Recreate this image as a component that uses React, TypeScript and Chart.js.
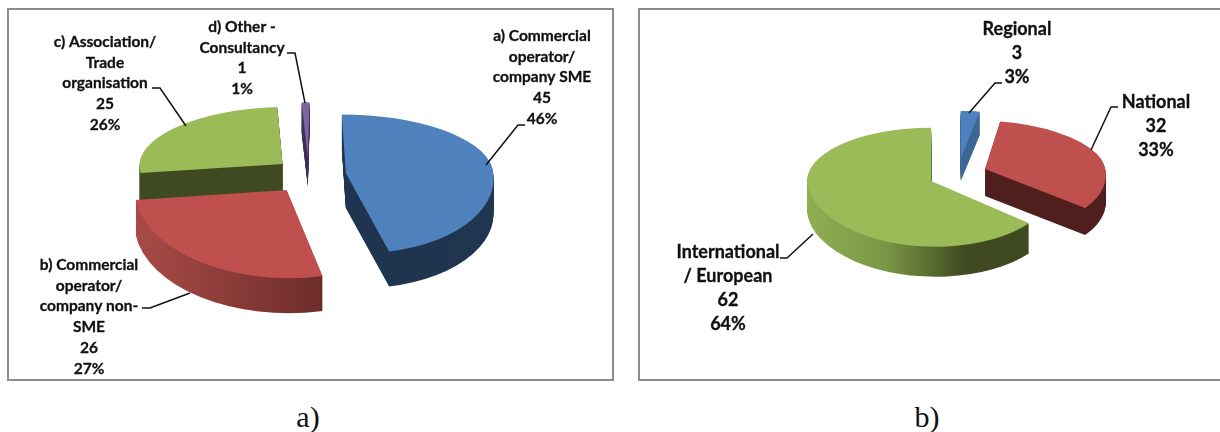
import React, { useEffect, useRef } from "react";
import { Chart, registerables } from "chart.js";

Chart.register(...registerables);

// ---- data ----
const leftCategories = ["a) Commercial operator/ company SME", "b) Commercial operator/ company non-SME", "c) Association/ Trade organisation", "d) Other - Consultancy"];
const leftValues = [45, 26, 25, 1];
const rightCategories = ["Regional", "National", "International / European"];
const rightValues = [3, 32, 62];
const leftNameLines = [
  ["a) Commercial", "operator/", "company SME"],
  ["b) Commercial", "operator/", "company non-", "SME"],
  ["c) Association/", "Trade", "organisation"],
  ["d) Other -", "Consultancy"],
];
const rightNameLines = [["Regional"], ["National"], ["International", "/ European"]];
const leftPercents = [46, 27, 26, 1];
const rightPercents = [3, 33, 64];

// ---- styles and placement ----
const BLUE = "#4f81bd", RED = "#c0504d", GREEN = "#9bbb59", PURPLE = "#8064a2";

type Stop = [number, string];
type Panel = {
  left: number; top: number; width: number; height: number;
  padding: any; radius: number; baseK: number; fontSize: number; lineH: number;
  labels: string[]; values: number[]; names: string[][]; percents: number[];
  colors: string[]; explode: number[]; kUp: number[]; kDown: number[]; depth: number[];
  kx: number[]; shearUp: number[]; shearDown: number[]; nudge: number[];
  order: number[]; walls: Stop[][];
  labelPos: number[][]; leaders: number[][][];
};

const leftPanel: Panel = {
  left: 8, top: 9, width: 604, height: 371,
  padding: { right: 2, bottom: 39 }, radius: 152, baseK: 0.48, fontSize: 15.5, lineH: 20.7,
  labels: leftCategories, values: leftValues, names: leftNameLines, percents: leftPercents,
  colors: [BLUE, RED, GREEN, PURPLE],
  explode: [37, 37, 37, 37],
  kUp: [0.385, 0.4, 0.375, 0.36],
  kDown: [0.53, 0.58, 0.53, 0.53],
  kx: [0.97, 1, 0.94, 0.8],
  shearUp: [0.067, 0, -0.07, -0.03],
  shearDown: [0.13, 0.02, 0, 0],
  nudge: [0, -1, 2, 0],
  depth: [35, 35, 35, 30],
  order: [3, 2, 0, 1],
  walls: [
    [[0, "#1f344e"], [1, "#1f3550"]],
    [[0, "#a84b47"], [0.6, "#6e2d2b"], [0.62, "#5a2322"], [1, "#552120"]],
    [[0, "#3f4a20"], [1, "#3f4a20"]],
    [[0, "#3c2f57"], [1, "#3c2f57"]],
  ],
  labelPos: [[542, 36], [89, 265], [105, 42], [242, 27]],
  leaders: [
    [[525, 125], [518, 125], [486, 165]],
    [[142, 308], [150, 308], [190, 293]],
    [[152, 88], [160, 88], [186, 126]],
    [[287, 53], [295, 53], [305, 103]],
  ],
};

const rightPanel: Panel = {
  left: 639, top: 9, width: 581, height: 371,
  padding: { left: 57, bottom: 41 }, radius: 124, baseK: 0.55, fontSize: 18, lineH: 24,
  labels: rightCategories, values: rightValues, names: rightNameLines, percents: rightPercents,
  colors: [BLUE, RED, GREEN],
  explode: [28.6, 28.6, 28.6],
  kUp: [0.38, 0.39, 0.43],
  kDown: [0.5, 0.49, 0.53],
  kx: [0.8, 0.97, 1],
  shearUp: [0, 0.17, 0],
  shearDown: [0, 0.2, 0.07],
  nudge: [0, 0, -1],
  depth: [23, 27, 30],
  order: [0, 1, 2],
  walls: [
    [[0, "#3c6696"], [1, "#3c6696"]],
    [[0, "#4f1f1e"], [1, "#4f1f1e"]],
    [[0, "#8fae52"], [0.3, "#7a9646"], [0.62, "#3f4a20"], [1, "#3f4a20"]],
  ],
  labelPos: [[1017, 29], [1156, 102], [728, 252]],
  leaders: [
    [[1002, 83], [995, 83], [969, 113]],
    [[1118, 107], [1111, 107], [1091, 150]],
    [[780, 258], [787, 258], [813, 234]],
  ],
};

function drawExtruded(chart: any, p: Panel) {
  const ctx: CanvasRenderingContext2D = chart.ctx;
  const arcs = chart.getDatasetMeta(0).data;
  const W = chart.width, H = chart.height;

  const stamp = (arc: any, i: number, ax: number, ay: number, dy: number, upper: boolean) => {
    ctx.save();
    ctx.beginPath();
    if (upper) ctx.rect(0, 0, W, ay + dy);
    else ctx.rect(0, ay + dy, W, H - ay - dy);
    ctx.clip();
    ctx.translate(ax, ay + dy);
    ctx.transform(1, 0, upper ? p.shearUp[i] : p.shearDown[i], 1, 0, 0);
    ctx.scale(p.kx[i], upper ? p.kUp[i] : p.kDown[i]);
    ctx.translate(-arc.x, -arc.y);
    arc.draw(ctx);
    ctx.restore();
  };

  for (const i of p.order) {
    const arc = arcs[i];
    const mid = (arc.startAngle + arc.endAngle) / 2;
    const ax = arc.x + p.explode[i] * Math.cos(mid) + p.nudge[i];
    const ay = Math.round(arc.y + p.explode[i] * Math.sin(mid) * p.baseK);
    const orig = arc.options;
    const grad = ctx.createLinearGradient(arc.x - p.radius, 0, arc.x + p.radius, 0);
    for (const [f, c] of p.walls[i]) grad.addColorStop(f, c);
    arc.options = { ...orig, backgroundColor: grad };
    for (let dy = p.depth[i]; dy >= 1; dy--) {
      stamp(arc, i, ax, ay, dy, true);
      stamp(arc, i, ax, ay, dy, false);
    }
    arc.options = orig;
    stamp(arc, i, ax, ay, 0, true);
    stamp(arc, i, ax, ay, 0, false);
  }
}

function drawLabels(chart: any, p: Panel) {
  const ctx: CanvasRenderingContext2D = chart.ctx;
  ctx.save();
  ctx.translate(-p.left, -p.top);
  ctx.strokeStyle = "#111";
  ctx.lineWidth = 1.5;
  for (const line of p.leaders) {
    ctx.beginPath();
    line.forEach(([x, y], j) => (j ? ctx.lineTo(x, y) : ctx.moveTo(x, y)));
    ctx.stroke();
  }
  ctx.fillStyle = "#111";
  ctx.font = `bold ${p.fontSize}px Lato`;
  ctx.textAlign = "center";
  ctx.textBaseline = "middle";
  ctx.lineWidth = 0.3;
  p.names.forEach((lines, i) => {
    const all = [...lines, String(p.values[i]), `${p.percents[i]}%`];
    all.forEach((t, j) => {
      const x = p.labelPos[i][0], y = p.labelPos[i][1] + j * p.lineH;
      ctx.fillText(t, x, y);
      ctx.strokeText(t, x, y);
    });
  });
  ctx.restore();
}

function PieCanvas({ panel }: { panel: Panel }) {
  const ref = useRef<HTMLCanvasElement>(null);
  useEffect(() => {
    const chart = new Chart(ref.current!, {
      type: "pie",
      data: {
        labels: panel.labels,
        datasets: [{ data: panel.values, backgroundColor: panel.colors, borderWidth: 0 }],
      },
      options: {
        animation: false,
        responsive: false,
        radius: panel.radius,
        layout: { padding: panel.padding },
        plugins: { legend: { display: false }, tooltip: { enabled: false } },
      } as any,
      plugins: [
        {
          id: "extrude",
          beforeDatasetDraw(c: any) {
            drawExtruded(c, panel);
            return false;
          },
          afterDraw(c: any) {
            drawLabels(c, panel);
          },
        },
      ],
    });
    return () => chart.destroy();
  }, [panel]);
  return (
    <canvas
      ref={ref}
      width={panel.width}
      height={panel.height}
      style={{ position: "absolute", left: panel.left, top: panel.top, width: panel.width, height: panel.height }}
    />
  );
}

const frame = "2px solid #8c8c8c";
const caption: React.CSSProperties = {
  position: "absolute",
  top: 400,
  width: 60,
  textAlign: "center",
  font: "30px/34px 'Liberation Serif'",
  color: "#111",
};

export default function App() {
  return (
    <div style={{ position: "fixed", left: 0, top: 0, width: 1220, height: 432, background: "#fff", overflow: "hidden" }}>
      <div style={{ position: "absolute", left: 7, top: 8, width: 603, height: 369, border: frame }} />
      <div style={{ position: "absolute", left: 638, top: 8, width: 590, height: 369, border: frame }} />
      <PieCanvas panel={leftPanel} />
      <PieCanvas panel={rightPanel} />
      <div style={{ ...caption, left: 278 }}>a)</div>
      <div style={{ ...caption, left: 897 }}>b)</div>
    </div>
  );
}
